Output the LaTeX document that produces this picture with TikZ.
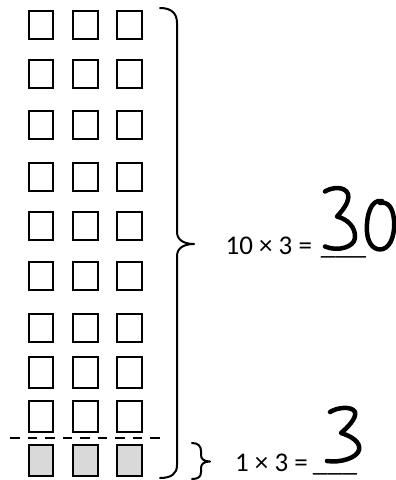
\documentclass[tikz,border=0pt]{standalone}
\usepackage{fontspec}
\setmainfont{Carlito}
\begin{document}
\begin{tikzpicture}[x=1pt,y=-1pt,
  sq/.style={draw=black,line width=2pt,minimum width=24.5pt,minimum height=28pt,inner sep=0pt,outer sep=0pt},
  sqtall/.style={sq,minimum height=30.5pt},
  shaded/.style={fill=gray!30},
  bracel/.style={line width=2pt,line cap=round,line join=round},
  cut/.style={line width=2.4pt,dash pattern=on 9.5pt off 8pt},
  eq/.style={font=\fontsize{27}{32}\selectfont,inner sep=0pt,anchor=base west},
  hand/.style={line width=4.5pt,line cap=round,line join=round}]
\useasboundingbox (0,0) rectangle (396,480);
% squares
\foreach \r/\y in {1/24.75,2/73.7,3/124.5,4/176.7,5/226,6/276.3,7/327.7}{
  \foreach \c/\x in {1/41,2/85.3,3/129.3}{
    \node[sq] (s\r-\c) at (\x,\y) {};
  }
}
\foreach \r/\y in {8/372.3,9/416.3}{
  \foreach \c/\x in {1/41,2/85.3,3/129.3}{
    \node[sqtall] (s\r-\c) at (\x,\y) {};
  }
}
\foreach \c/\x in {1/41,2/85.3,3/129.3}{
  \node[sqtall,shaded] (s10-\c) at (\x,460.3) {};
}
% dashed line
\coordinate (d1) at (10,438);
\coordinate (d2) at (167,438);
\draw[cut] (d1) -- (d2);
% big brace
\coordinate (bt) at (160,8);
\coordinate (btip) at (194,244);
\coordinate (bb) at (160,478);
\draw[bracel] (bt) .. controls (171,8) and (177,13) .. (177,23) -- (177,232)
  .. controls (177,240) and (184,244) .. (btip)
  .. controls (184,244) and (177,248) .. (177,256) -- (177,465)
  .. controls (177,474) and (171,478) .. (bb);
% small brace
\coordinate (st) at (192,443);
\coordinate (stip) at (210,461.5);
\coordinate (sb) at (192,479);
\draw[bracel] (st) .. controls (198,443) and (201,446) .. (201,451) -- (201,455)
  .. controls (201,459) and (204,461.5) .. (stip)
  .. controls (204,461.5) and (201,464) .. (201,468) -- (201,472)
  .. controls (201,477) and (198,479) .. (sb);
% equations
\node[eq] (e1) at (225.5,254.3) {10 × 3 =\hspace{9pt}\scalebox{1.12}[1]{\_\_\_}};
\node[eq] (e2) at (235,471.7) {1 × 3 =\hspace{5pt}\scalebox{1.1}[1]{\_\_\_}};
% handwritten 30
\draw[hand] (325,191.5) .. controls (332,187) and (345,186) .. (348,194)
  .. controls (350,202) and (342,211) .. (337,216.5)
  .. controls (347,219) and (356,227) .. (355,238)
  .. controls (354,247) and (338,252) .. (325,246.5);
\draw[hand] (382,201) .. controls (371,199) and (366,215) .. (367,232)
  .. controls (368,246) and (376,251) .. (383,249)
  .. controls (392,246) and (395,232) .. (394,220)
  .. controls (393,208) and (388,201) .. (380,203);
% handwritten 3
\draw[hand] (330,412) .. controls (338,407) and (352,406) .. (355,412)
  .. controls (357,418) and (347,428) .. (341,433)
  .. controls (351,436) and (361,442) .. (359,450)
  .. controls (357,458) and (340,463) .. (327,461);
\end{tikzpicture}
\end{document}
